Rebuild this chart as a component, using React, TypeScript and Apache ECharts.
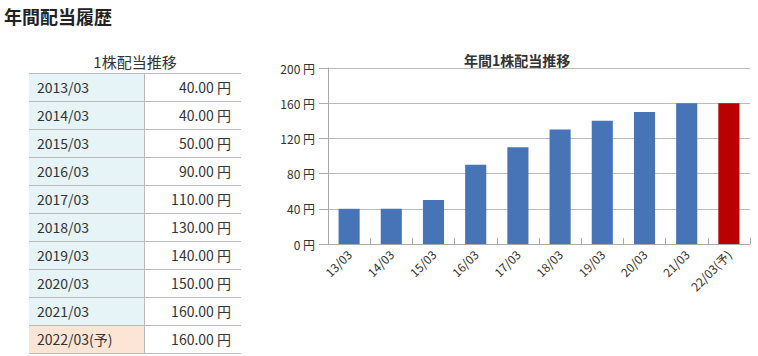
import React, { useEffect, useRef } from "react";
import * as echarts from "echarts";

const tableLabels = ["2013/03", "2014/03", "2015/03", "2016/03", "2017/03", "2018/03", "2019/03", "2020/03", "2021/03", "2022/03(予)"];
const axisLabels = ["13/03", "14/03", "15/03", "16/03", "17/03", "18/03", "19/03", "20/03", "21/03", "22/03(予)"];
const dividends = [40, 40, 50, 90, 110, 130, 140, 150, 160, 160];
const forecastIndex = 9;
const yTicks = { min: 0, max: 200, interval: 40 };

const FONT = '"Noto Sans CJK JP", "Noto Sans", sans-serif';
const BLUE = "#4674b7";
const RED = "#bb0000";

function Chart() {
  const ref = useRef<HTMLDivElement>(null);
  useEffect(() => {
    const chart = echarts.init(ref.current!, null, { renderer: "svg" });
    chart.setOption({
      animation: false,
      textStyle: { fontFamily: FONT },
      title: {
        text: "年間1株配当推移",
        left: 199,
        top: 8,
        textStyle: { fontSize: 14, fontWeight: "bold", color: "#333", fontFamily: FONT },
      },
      grid: { left: 68, right: 8, top: 28, height: 176 },
      xAxis: {
        type: "category",
        data: axisLabels,
        axisLine: { lineStyle: { color: "#aaa" } },
        axisTick: { show: true, inside: true, length: 6, lineStyle: { color: "#aaa" } },
        axisLabel: { rotate: 45, fontSize: 12, color: "#333", margin: 8, fontFamily: FONT },
      },
      yAxis: {
        type: "value",
        min: yTicks.min,
        max: yTicks.max,
        interval: yTicks.interval,
        axisLine: { show: true, lineStyle: { color: "#aaa" } },
        axisTick: { show: true, length: 9, lineStyle: { color: "#aaa" } },
        splitLine: { lineStyle: { color: "#bbb" } },
        axisLabel: { formatter: "{value} 円", fontSize: 12, color: "#333", margin: 13, fontFamily: FONT },
      },
      series: [
        {
          type: "bar",
          barWidth: "50%",
          data: dividends.map((v, i) => ({
            value: v,
            itemStyle: { color: i === forecastIndex ? RED : BLUE },
          })),
        },
      ],
    });
    return () => chart.dispose();
  }, []);
  return <div ref={ref} style={{ position: "absolute", left: 260, top: 40, width: 498, height: 316 }} />;
}

export default function App() {
  return (
    <div style={{ fontFamily: FONT, color: "#333" }}>
      <div
        style={{
          position: "absolute",
          left: 4,
          top: 3,
          fontSize: 18,
          fontWeight: "bold",
          lineHeight: "26px",
          color: "#222",
        }}
      >
        年間配当履歴
      </div>
      <div
        style={{
          position: "absolute",
          left: 29,
          top: 51,
          width: 212,
          textAlign: "center",
          fontSize: 15,
          lineHeight: "21px",
          color: "#333",
        }}
      >
        1株配当推移
      </div>
      <div style={{ position: "absolute", left: 29, top: 73, width: 212, borderTop: "1px solid #bbb" }}>
        {tableLabels.map((label, i) => (
          <div key={label} style={{ display: "flex", height: 27, borderBottom: "1px solid #bbb", fontSize: 14 }}>
            <div
              style={{
                width: 116,
                borderRight: "1px solid #bbb",
                background: i === forecastIndex ? "#fde5d5" : "#e6f3f7",
                paddingLeft: 8,
                lineHeight: "27px",
                boxSizing: "border-box",
              }}
            >
              {label}
            </div>
            <div style={{ flex: 1, textAlign: "right", paddingRight: 10, lineHeight: "27px" }}>
              {dividends[i].toFixed(2)} 円
            </div>
          </div>
        ))}
      </div>
      <Chart />
    </div>
  );
}
